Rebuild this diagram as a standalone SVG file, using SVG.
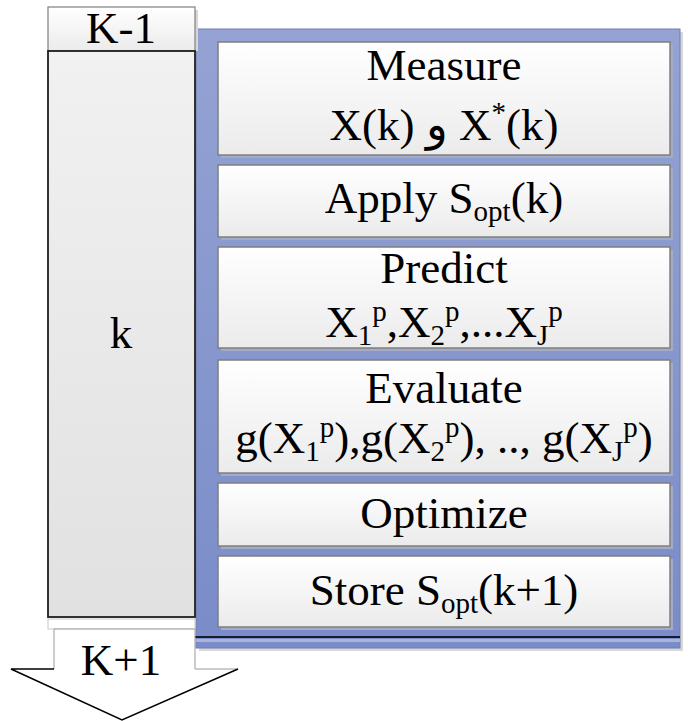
<svg xmlns="http://www.w3.org/2000/svg" width="688" height="721" viewBox="0 0 688 721">
<style>
text{font-family:"Liberation Serif","Times New Roman",serif;font-size:45px;fill:#000;text-anchor:middle}
.sub{font-size:29px}
.step{fill:url(#gStep);stroke:#7f7f7f;stroke-width:1.5}
.sh{fill:#a4abc6}
</style>
<defs>
<linearGradient id="gStep" x1="0" y1="0" x2="0" y2="1"><stop offset="0" stop-color="#ffffff"/><stop offset="1" stop-color="#ebebeb"/></linearGradient>
<linearGradient id="gK" x1="0" y1="0" x2="0" y2="1"><stop offset="0" stop-color="#f1f1f1"/><stop offset="1" stop-color="#e1e1e1"/></linearGradient>
<linearGradient id="gBlue" x1="0" y1="0" x2="0" y2="1"><stop offset="0" stop-color="#94a3d3"/><stop offset="1" stop-color="#7a8cc9"/></linearGradient>
</defs>
<g id="panel">
<rect x="199" y="32" width="484" height="619" fill="#d8d8d8"/>
<rect x="196" y="29" width="484" height="619" fill="url(#gBlue)" stroke="#6f7fae" stroke-width="1"/>
<line x1="195" y1="637" x2="680" y2="637" stroke="#1a1a2a" stroke-width="2"/>
<rect x="196" y="639" width="484" height="3" fill="#a9b4db"/>
</g>

<g id="kminus1">
<rect x="51" y="10" width="147" height="41" fill="#d6d6d6"/>
<rect x="48" y="7" width="147" height="44" fill="url(#gStep)" stroke="#7f7f7f" stroke-width="1.2"/>
<text x="121" y="43">K-1</text>
</g>

<g id="k">
<rect x="48" y="51" width="147" height="566" fill="url(#gK)" stroke="#1e1e1e" stroke-width="1.8"/>
<text x="121" y="348">k</text>
</g>

<g id="measure">
<rect class="sh" x="221" y="45" width="452" height="113"/>
<rect class="step" x="218" y="42" width="452" height="113"/>
<text x="444" y="80">Measure</text>
<text x="444" y="140">X(k) و X<tspan class="sub" dy="-18">*</tspan><tspan dy="18">(k)</tspan></text>
</g>

<g id="apply">
<rect class="sh" x="221" y="168" width="452" height="72"/>
<rect class="step" x="218" y="165" width="452" height="72"/>
<text x="444" y="213">Apply S<tspan class="sub" dy="8">opt</tspan><tspan dy="-8">(k)</tspan></text>
</g>

<g id="predict">
<rect class="sh" x="221" y="250" width="452" height="101"/>
<rect class="step" x="218" y="247" width="452" height="101"/>
<text x="444" y="283">Predict</text>
<text x="444" y="337">X<tspan class="sub" dy="8">1</tspan><tspan class="sub" dy="-24">p</tspan><tspan dy="16">,X</tspan><tspan class="sub" dy="8">2</tspan><tspan class="sub" dy="-24">p</tspan><tspan dy="16">,...X</tspan><tspan class="sub" dy="8">J</tspan><tspan class="sub" dy="-24">p</tspan></text>
</g>

<g id="evaluate">
<rect class="sh" x="221" y="363" width="452" height="113"/>
<rect class="step" x="218" y="360" width="452" height="113"/>
<text x="444" y="403">Evaluate</text>
<text x="444" y="453">g(X<tspan class="sub" dy="8">1</tspan><tspan class="sub" dy="-24">p</tspan><tspan dy="16">),g(X</tspan><tspan class="sub" dy="8">2</tspan><tspan class="sub" dy="-24">p</tspan><tspan dy="16">), .., g(X</tspan><tspan class="sub" dy="8">J</tspan><tspan class="sub" dy="-24">p</tspan><tspan dy="16">)</tspan></text>
</g>

<g id="optimize">
<rect class="sh" x="221" y="486" width="452" height="63"/>
<rect class="step" x="218" y="483" width="452" height="63"/>
<text x="444" y="528">Optimize</text>
</g>

<g id="store">
<rect class="sh" x="221" y="559" width="452" height="71"/>
<rect class="step" x="218" y="556" width="452" height="71"/>
<text x="444" y="605">Store S<tspan class="sub" dy="8">opt</tspan><tspan dy="-8">(k+1)</tspan></text>
</g>

<g id="connectors">
<rect x="48" y="619" width="147" height="10" fill="#ffffff" stroke="#c8c8c8" stroke-width="1"/>
<g id="kplus1">
<polygon points="54,629 195,629 195,669 238,669 122,720 11,669 54,669" fill="#ffffff" stroke="none"/>
<polyline points="54,669 54,629 195,629 195,669 238,669" fill="none" stroke="#9a9a9a" stroke-width="1"/>
<polyline points="238,669 122,720 11,669 54,669" fill="none" stroke="#000" stroke-width="1.5"/>
<text x="121" y="675">K+1</text>
</g>
</g>
</svg>
